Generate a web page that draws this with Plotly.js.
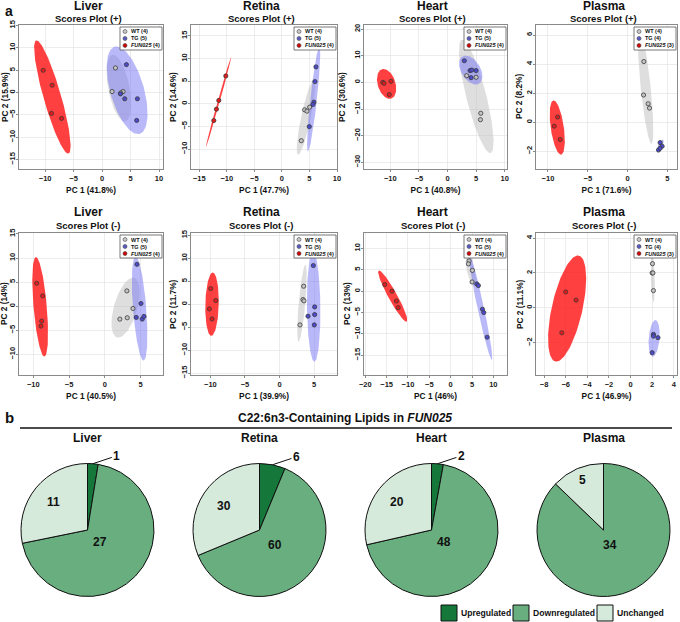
<!DOCTYPE html>
<html><head><meta charset="utf-8">
<script src="https://cdn.plot.ly/plotly-3.0.1.min.js"></script>
<style>html,body{margin:0;padding:0;background:#fff}</style>
</head><body><div id="chart" style="width:680px;height:622px"></div>
<script>
// ================= DATA: panel a (PCA scores) =================
const tissues = ['Liver', 'Retina', 'Heart', 'Plasma'];
const modeTitles = ['Scores Plot (+)', 'Scores Plot (-)'];
const pc1Labels = ['PC 1 (41.8%)', 'PC 1 (47.7%)', 'PC 1 (40.8%)', 'PC 1 (71.6%)',
                   'PC 1 (40.5%)', 'PC 1 (39.9%)', 'PC 1 (46%)', 'PC 1 (46.9%)'];
const pc2Labels = ['PC 2 (15.9%)', 'PC 2 (14.6%)', 'PC 2 (30.6%)', 'PC 2 (8.2%)',
                   'PC 2 (14%)', 'PC 2 (11.7%)', 'PC 2 (13%)', 'PC 2 (11.1%)'];
const groupNames = ['WT', 'TG', 'FUN025'];

// Liver (+)
const liverPosWTx = [2.35, 1.75, 3.68, 3.28];       const liverPosWTy = [5.5, 0.22, 0.22, -0.1];
const liverPosTGx = [4.27, 3.22, 3.98, 6.2, 6.08];  const liverPosTGy = [6.24, -0.29, -1.4, -1.4, -6.24];
const liverPosFUNx = [-10.35, -8.77, -8.89, -7.13]; const liverPosFUNy = [4.97, 1.63, -4.68, -5.79];
// ellipses: [centerX, centerY, topX, topY, halfWidthAtCenter]
const liverPosEllWT = [2.95, 1.0, 1.93, 8.46, 1.9];
const liverPosEllTG = [4.4, 0.5, 2.51, 10.3, 3.05];
const liverPosEllFUN = [-8.74, -1.0, -11.52, 11.66, 1.6];

// Retina (+)
const retinaPosWTx = [3.52, 4.12, 4.55, 5.03];        const retinaPosWTy = [-8.15, -1.33, -1.63, -0.74];
const retinaPosTGx = [6.18, 6.0, 5.82, 5.64, 4.97];   const retinaPosTGy = [8.15, 4.9, 0.37, -0.15, -5.04];
const retinaPosFUNx = [-10.18, -11.45, -11.88, -12.36]; const retinaPosFUNy = [6.15, 0.74, -1.19, -3.70];
const retinaPosEllWT = [4.36, -3.04, 5.76, 5.19, 0.9];
const retinaPosEllTG = [5.76, 1.04, 6.79, 12.6, 0.6];
const retinaPosEllFUN = [-11.5, 0.4, -9.2, 10.4, 0.2];

// Heart (+)
const heartPosWTx = [3.35, 5.0, 5.82, 5.76];        const heartPosWTy = [2.5, 1.9, -11.6, -14.0];
const heartPosTGx = [2.94, 3.94, 4.24, 5.0, 4.12];  const heartPosTGy = [8.1, 4.4, 4.6, 4.4, 1.75];
const heartPosFUNx = [-11.3, -11.1, -9.88, -10.18]; const heartPosFUNy = [0.0, -0.4, 0.37, -4.6];
const heartPosEllWT = [5.03, -5.25, 2.6, 16.0, 1.8];
const heartPosEllTG = [4.06, 4.6, 3.18, 10.0, 1.85];
const heartPosEllFUN = [-10.65, -0.6, -11.18, 5.0, 1.6];

// Plasma (+)
const plasmaPosWTx = [2.04, 2.0, 2.58, 2.75];     const plasmaPosWTy = [4.18, 1.87, 1.27, 0.97];
const plasmaPosTGx = [4.08, 4.33, 3.88, 4.08];    const plasmaPosTGy = [-1.41, -1.66, -1.92, -1.8];
const plasmaPosFUNx = [-8.79, -9.21, -8.46];      const plasmaPosFUNy = [0.35, -0.28, -1.2];
const plasmaPosEllWT = [2.27, 2.37, 1.54, 6.24, 0.63];
const plasmaPosEllTG = [4.08, -1.65, 4.4, -1.2, 0.3];
const plasmaPosEllFUN = [-8.83, -0.37, -9.29, 1.5, 0.83];

// Liver (-)
const liverNegWTx = [3.08, 3.93, 3.13, 2.10];       const liverNegWTy = [3.17, -0.48, -2.41, -2.69];
const liverNegTGx = [4.49, 5.05, 4.39, 5.23, 5.47]; const liverNegTGy = [8.69, 0.55, -2.34, -2.69, -2.14];
const liverNegFUNx = [-9.53, -8.69, -8.83, -8.93];  const liverNegFUNy = [4.76, 2.14, -3.1, -4.14];
const liverNegEllWT = [2.9, -0.3, 3.93, 5.93, 1.68];
const liverNegEllTG = [4.86, -0.48, 4.3, 10.34, 0.93];
const liverNegEllFUN = [-9.04, -0.14, -9.63, 10.2, 0.93];

// Retina (-)
const retinaNegWTx = [3.48, 3.38, 3.53, 2.95];        const retinaNegWTy = [3.92, 1.02, 0.73, -4.5];
const retinaNegTGx = [4.88, 5.07, 5.07, 4.11, 5.02];  const retinaNegTGy = [8.42, -0.58, -2.25, -2.6, -4.5];
const retinaNegFUNx = [-9.95, -9.23, -10.14, -9.76];  const retinaNegFUNy = [3.41, 0.8, -1.02, -3.2];
const retinaNegEllWT = [3.24, 0.2, 3.72, 8.57, 0.48];
const retinaNegEllTG = [4.93, -0.5, 4.83, 11.5, 0.97];
const retinaNegEllFUN = [-9.76, 0.0, -9.66, 6.9, 0.97];

// Heart (-)
const heartNegWTx = [4.31, 4.16, 5.1, 5.02];        const heartNegWTy = [7.08, 6.38, 4.85, 2.15];
const heartNegTGx = [6.12, 6.5, 7.45, 7.76, 8.55];  const heartNegTGy = [1.7, 1.3, -4.23, -5.0, -10.77];
const heartNegFUNx = [-15.45, -13.73, -12.7, -12.3]; const heartNegFUNy = [1.54, 0.0, -2.3, -3.85];
const heartNegEllWT = [4.78, 4.6, 4.0, 8.08, 0.94];
const heartNegEllTG = [6.98, -3.6, 4.31, 8.85, 0.78];
const heartNegEllFUN = [-13.57, -1.15, -16.78, 4.85, 1.18];

// Plasma (-)
const plasmaNegWTx = [2.03, 2.0, 2.07, 2.12];     const plasmaNegWTy = [2.53, 2.0, 2.0, 0.99];
const plasmaNegTGx = [2.12, 2.12, 2.54, 2.0];     const plasmaNegTGy = [-1.52, -1.62, -1.71, -2.57];
const plasmaNegFUNx = [-6.0, -5.04, -6.36];       const plasmaNegFUNy = [0.91, 0.44, -1.43];
const plasmaNegEllWT = [2.06, 1.71, 2.0, 3.1, 0.18];
const plasmaNegEllTG = [2.18, -1.75, 2.3, -0.7, 0.5];
const plasmaNegEllFUN = [-5.87, -0.04, -4.87, 3.0, 1.45];

// ================= DATA: panel b (pies) =================
const pieTissues = ['Liver', 'Retina', 'Heart', 'Plasma'];
const categories = ['Upregulated', 'Downregulated', 'Unchanged'];
const upregulated = [1, 6, 2, 0];
const downregulated = [27, 60, 48, 34];
const unchanged = [11, 30, 20, 5];

// ================= LAYOUT / STYLE =================
const W = 680, H = 622;
const FONT = 'Liberation Sans, Arial, Helvetica, sans-serif';
const px = X => X / W, py = Y => 1 - Y / H;
const colX = [[19, 163], [191, 337], [364, 507], [536, 677]];
const rowY = [[25, 169], [233, 375]];
const yTitleGap = [14, 18, 22, 17, 15, 18, 17, 16];
const xRanges = [[-14.6, 10.7], [-16.5, 10.0], [-14.6, 10.4], [-11.5, 6.2],
                 [-12.0, 8.13], [-12.8, 8.3], [-20.3, 13.2], [-8.75, 4.3]];
const yRanges = [[-17.1, 15.1], [-14.4, 17.4], [-32.5, 21.5], [-3.23, 6.7],
                 [-14.3, 15.2], [-15.4, 15.5], [-19.6, 13.6], [-3.85, 4.29]];
const xDt = [5, 5, 5, 5, 5, 5, 5, 2];
const yDt = [5, 5, 10, 2, 5, 5, 5, 2];
const ellFill = ['rgba(195,195,195,0.55)', 'rgba(115,115,245,0.5)', 'rgba(255,30,30,0.85)'];
const ptFill = ['#c4c4c4', '#4b4bcc', '#e31a1a'];
const legFill = ['#c8c8c8', '#5a5ac8', '#d40000'];

const panels = [
  {pts: [[liverPosWTx, liverPosWTy], [liverPosTGx, liverPosTGy], [liverPosFUNx, liverPosFUNy]], ell: [liverPosEllWT, liverPosEllTG, liverPosEllFUN]},
  {pts: [[retinaPosWTx, retinaPosWTy], [retinaPosTGx, retinaPosTGy], [retinaPosFUNx, retinaPosFUNy]], ell: [retinaPosEllWT, retinaPosEllTG, retinaPosEllFUN]},
  {pts: [[heartPosWTx, heartPosWTy], [heartPosTGx, heartPosTGy], [heartPosFUNx, heartPosFUNy]], ell: [heartPosEllWT, heartPosEllTG, heartPosEllFUN]},
  {pts: [[plasmaPosWTx, plasmaPosWTy], [plasmaPosTGx, plasmaPosTGy], [plasmaPosFUNx, plasmaPosFUNy]], ell: [plasmaPosEllWT, plasmaPosEllTG, plasmaPosEllFUN]},
  {pts: [[liverNegWTx, liverNegWTy], [liverNegTGx, liverNegTGy], [liverNegFUNx, liverNegFUNy]], ell: [liverNegEllWT, liverNegEllTG, liverNegEllFUN]},
  {pts: [[retinaNegWTx, retinaNegWTy], [retinaNegTGx, retinaNegTGy], [retinaNegFUNx, retinaNegFUNy]], ell: [retinaNegEllWT, retinaNegEllTG, retinaNegEllFUN]},
  {pts: [[heartNegWTx, heartNegWTy], [heartNegTGx, heartNegTGy], [heartNegFUNx, heartNegFUNy]], ell: [heartNegEllWT, heartNegEllTG, heartNegEllFUN]},
  {pts: [[plasmaNegWTx, plasmaNegWTy], [plasmaNegTGx, plasmaNegTGy], [plasmaNegFUNx, plasmaNegFUNy]], ell: [plasmaNegEllWT, plasmaNegEllTG, plasmaNegEllFUN]}
];

function ellipsePath(p) {
  const [cx, cy, tx, ty, hw] = p; const ux = tx - cx, uy = ty - cy;
  const xs = [], ys = [];
  for (let k = 0; k <= 120; k++) {
    const t = 2 * Math.PI * k / 120;
    xs.push(cx + ux * Math.cos(t) + hw * Math.sin(t));
    ys.push(cy + uy * Math.cos(t));
  }
  return [xs, ys];
}

const traces = [], annotations = [], shapes = [];
const layout = {
  width: W, height: H, margin: {l: 0, r: 0, t: 0, b: 0},
  paper_bgcolor: '#fff', plot_bgcolor: '#fff', showlegend: false,
  font: {family: FONT, color: '#111', weight: 'bold'}
};

panels.forEach((pn, i) => {
  const row = i < 4 ? 0 : 1, col = i % 4;
  const [fx0, fx1] = colX[col], [fy0, fy1] = rowY[row];
  const xid = 'x' + (i + 1), yid = 'y' + (i + 1);
  const xk = 'xaxis' + (i + 1), yk = 'yaxis' + (i + 1);
  const common = {
    showgrid: true, gridcolor: '#e4e4e4', gridwidth: 0.7, zeroline: false,
    showline: true, mirror: true, linecolor: '#8a8a8a', linewidth: 1,
    ticks: 'outside', ticklen: 2, tickcolor: '#8a8a8a', tick0: 0,
    tickfont: {family: FONT, size: 7.5, weight: 'bold', color: '#1a1a1a'},
    fixedrange: true
  };
  layout[xk] = Object.assign({}, common, {
    domain: [px(fx0), px(fx1)], range: xRanges[i], dtick: xDt[i], anchor: yid,
    title: {text: pc1Labels[i], font: {family: FONT, size: 8.3, weight: 'bold', color: '#111'}, standoff: 5}
  });
  layout[yk] = Object.assign({}, common, {
    domain: [py(fy1), py(fy0)], range: yRanges[i], dtick: yDt[i], anchor: xid, tickangle: -90,
    ticklabelstandoff: -2
  });
  // y-axis title (placed beside the rotated tick labels)
  annotations.push({xref: 'paper', yref: 'paper', x: px(fx0 - yTitleGap[i]), y: py((fy0 + fy1) / 2),
    xanchor: 'center', yanchor: 'middle', textangle: -90, showarrow: false,
    text: '<b>' + pc2Labels[i] + '</b>', font: {family: FONT, size: 8.3, color: '#111'}});
  // ellipses
  pn.ell.forEach((e, g) => {
    const [xs, ys] = ellipsePath(e);
    traces.push({type: 'scatter', mode: 'lines', x: xs, y: ys, xaxis: xid, yaxis: yid,
      fill: 'toself', fillcolor: ellFill[g], line: {width: 0}, hoverinfo: 'skip', showlegend: false});
  });
  // points
  pn.pts.forEach((p, g) => {
    traces.push({type: 'scatter', mode: 'markers', x: p[0], y: p[1], xaxis: xid, yaxis: yid,
      name: groupNames[g], showlegend: false,
      marker: {size: 4.2, color: ptFill[g], line: {color: '#3a3a3a', width: 0.8}}});
  });
  // subplot titles
  const tcx = (fx0 + fx1) / 2 - 3;
  const tY = row === 0 ? [6, 18] : [212, 225];
  annotations.push({xref: 'paper', yref: 'paper', x: px(tcx), y: py(tY[0]), xanchor: 'center', yanchor: 'middle',
    text: '<b>' + tissues[col] + '</b>', showarrow: false, font: {family: FONT, size: 12, color: '#111'}});
  annotations.push({xref: 'paper', yref: 'paper', x: px(tcx), y: py(tY[1]), xanchor: 'center', yanchor: 'middle',
    text: '<b>' + modeTitles[row] + '</b>', showarrow: false, font: {family: FONT, size: 9.5, color: '#111'}});
  // in-panel legend
  const bw = 42, bh = 23, bx1 = fx1 - 1, bx0 = bx1 - bw, by0 = fy0 + 2, by1 = by0 + bh;
  shapes.push({type: 'rect', xref: 'paper', yref: 'paper', x0: px(bx0), x1: px(bx1), y0: py(by1), y1: py(by0),
    fillcolor: '#fff', line: {color: '#555', width: 0.8}, layer: 'above'});
  pn.pts.forEach((p, g) => {
    const ry = by0 + 4.5 + 7 * g, cx = bx0 + 5;
    shapes.push({type: 'circle', xref: 'paper', yref: 'paper', x0: px(cx - 2), x1: px(cx + 2), y0: py(ry + 2), y1: py(ry - 2),
      fillcolor: legFill[g], line: {color: '#444', width: 0.6}, layer: 'above'});
    const nm = g === 2 ? '<i>' + groupNames[g] + '</i>' : groupNames[g];
    annotations.push({xref: 'paper', yref: 'paper', x: px(bx0 + 9), y: py(ry), xanchor: 'left', yanchor: 'middle',
      text: '<b>' + nm + ' (' + p[0].length + ')</b>', showarrow: false, font: {family: FONT, size: 5.5, color: '#111'}});
  });
});

// panel letters
annotations.push({xref: 'paper', yref: 'paper', x: px(3), y: py(1), xanchor: 'left', yanchor: 'top',
  text: '<b>a</b>', showarrow: false, font: {family: FONT, size: 14, color: '#111'}});
annotations.push({xref: 'paper', yref: 'paper', x: px(3), y: py(417), xanchor: 'left', yanchor: 'middle',
  text: '<b>b</b>', showarrow: false, font: {family: FONT, size: 15, color: '#111'}});
annotations.push({xref: 'paper', yref: 'paper', x: px(345), y: py(418), xanchor: 'center', yanchor: 'middle',
  text: '<b>C22:6n3-Containing Lipids in <i>FUN025</i></b>', showarrow: false, font: {family: FONT, size: 12, color: '#111'}});
shapes.push({type: 'line', xref: 'paper', yref: 'paper', x0: px(20), x1: px(672), y0: py(428), y1: py(428),
  line: {color: '#111', width: 1.5}});

// ================= PIES =================
const pieColors = ['#16773a', '#68ae7e', '#d5eadb'];
const pieCX = [87.5, 259.5, 431.5, 603.5], pieCY = 530, pieR = 66.5;
pieTissues.forEach((t, i) => {
  const vals = [upregulated[i], downregulated[i], unchanged[i]];
  const tot = vals.reduce((a, b) => a + b, 0);
  const cx = pieCX[i];
  traces.push({type: 'pie', labels: categories, values: vals, sort: false, direction: 'clockwise', rotation: 0,
    domain: {x: [px(cx - pieR), px(cx + pieR)], y: [py(pieCY + pieR), py(pieCY - pieR)]},
    marker: {colors: pieColors, line: {color: '#111', width: 1}},
    textinfo: 'none', hoverinfo: 'none', showlegend: false, name: t});
  annotations.push({xref: 'paper', yref: 'paper', x: px(cx), y: py(438), xanchor: 'center', yanchor: 'middle',
    text: '<b>' + t + '</b>', showarrow: false, font: {family: FONT, size: 12, color: '#111'}});
  // value labels: inside for larger slices, outside with a leader line for small ones
  let cum = 0;
  vals.forEach(v => {
    const share = v / tot;
    const th = 2 * Math.PI * (cum + v / 2) / tot;
    if (v > 0 && share < 0.1) {
      const tx = cx + pieR * Math.sin(th), ty = pieCY - pieR * Math.cos(th);
      annotations.push({xref: 'paper', yref: 'paper', x: px(tx), y: py(ty), text: '<b>' + v + '</b>',
        showarrow: true, arrowhead: 0, arrowwidth: 1, arrowcolor: '#111', ax: 24, ay: -8, standoff: 0,
        font: {family: FONT, size: 12, color: '#111'}});
    } else if (v > 0) {
      const r = pieR * Math.max(0.25, 0.95 - share);
      const tx = cx + r * Math.sin(th), ty = pieCY - r * Math.cos(th);
      annotations.push({xref: 'paper', yref: 'paper', x: px(tx), y: py(ty), xanchor: 'center', yanchor: 'middle',
        text: '<b>' + v + '</b>', showarrow: false, font: {family: FONT, size: 12, color: '#111'}});
    }
    cum += v;
  });
});

// pie legend
const legX = [441, 513, 597];
categories.forEach((c, k) => {
  shapes.push({type: 'rect', xref: 'paper', yref: 'paper', x0: px(legX[k]), x1: px(legX[k] + 16), y0: py(621), y1: py(605),
    fillcolor: pieColors[k], line: {color: '#111', width: 1}});
  annotations.push({xref: 'paper', yref: 'paper', x: px(legX[k] + 18), y: py(613), xanchor: 'left', yanchor: 'middle',
    text: '<b>' + c + '</b>', showarrow: false, font: {family: FONT, size: 8.6, color: '#111'}});
});

layout.annotations = annotations;
layout.shapes = shapes;
Plotly.newPlot('chart', traces, layout, {staticPlot: true, displayModeBar: false});
</script>
</body></html>
